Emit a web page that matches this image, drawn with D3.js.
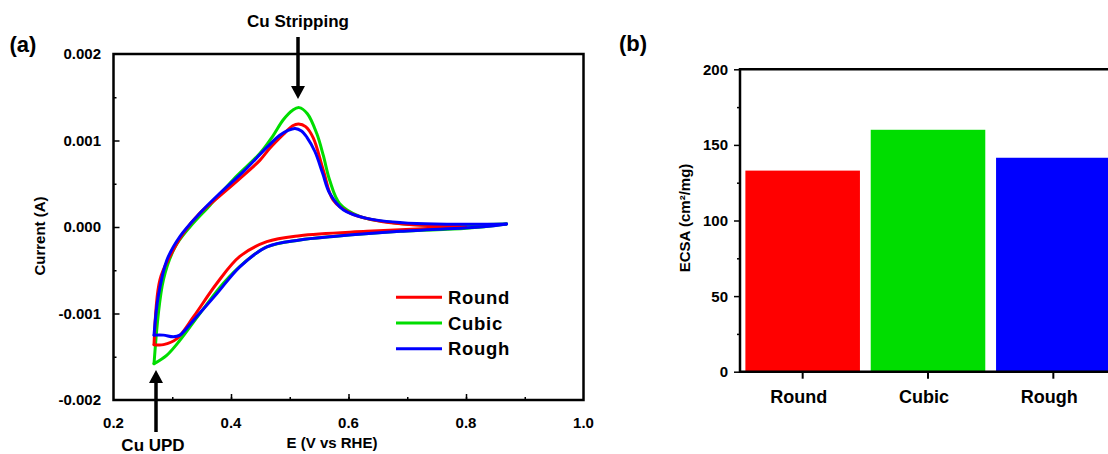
<!DOCTYPE html>
<html>
<head>
<meta charset="utf-8">
<script src="https://cdn.jsdelivr.net/npm/d3@7"></script>
<style>
  html, body { margin: 0; padding: 0; background: #fff; }
  svg { display: block; }
  text { font-family: "Liberation Sans", Arial, sans-serif; font-weight: bold; fill: #000; }
</style>
</head>
<body>
<svg id="chart" width="1108" height="454"></svg>
<script>
// ---------- Panel (a): cyclic voltammograms ----------
// Potential (V vs RHE) and current (A); each sweep: start at upper vertex, cathodic sweep down to lower vertex, anodic sweep back up.
const roundE = [0.800, 0.744, 0.631, 0.517, 0.461, 0.415, 0.376, 0.336, 0.308, 0.285, 0.269,
                0.279, 0.296, 0.319, 0.347, 0.381, 0.415, 0.449, 0.466, 0.489, 0.505, 0.515, 0.527, 0.540, 0.557, 0.574, 0.603, 0.659, 0.790];
const roundI = [0.000000, -0.000015, -0.00005, -0.00010, -0.00017, -0.00034, -0.00065, -0.00104, -0.00129, -0.00136, -0.00136,
                -0.00061, -0.00034, -0.00007, 0.00016, 0.00036, 0.00056, 0.00077, 0.00091, 0.00107, 0.00117, 0.00119, 0.00116, 0.00103, 0.00066, 0.00031, 0.00016, 0.00006, 0.000003];

const cubicE = [0.869, 0.801, 0.688, 0.574, 0.517, 0.461, 0.421, 0.387, 0.347, 0.313, 0.291, 0.269,
                0.285, 0.305, 0.330, 0.364, 0.404, 0.449, 0.472, 0.489, 0.505, 0.516, 0.530, 0.546, 0.557, 0.568, 0.585, 0.620, 0.676, 0.744, 0.869];
const cubicI = [0.000035, -0.000015, -0.00005, -0.00011, -0.00015, -0.00023, -0.00042, -0.00065, -0.00100, -0.00131, -0.00148, -0.00158,
                -0.00061, -0.00023, 0.00000, 0.00025, 0.00055, 0.00085, 0.00106, 0.00124, 0.00135, 0.00138, 0.00131, 0.00108, 0.00083, 0.00054, 0.00027, 0.00012, 0.00005, 0.00002, 0.000035];

const roughE = [0.869, 0.829, 0.688, 0.574, 0.517, 0.461, 0.415, 0.376, 0.336, 0.313, 0.302, 0.285, 0.269,
                0.276, 0.291, 0.313, 0.347, 0.381, 0.421, 0.461, 0.483, 0.498, 0.509, 0.520, 0.529, 0.543, 0.556, 0.568, 0.591, 0.631, 0.716, 0.869];
const roughI = [0.000035, 0.000003, -0.00005, -0.00011, -0.00015, -0.00023, -0.00046, -0.00077, -0.00108, -0.00125, -0.00127, -0.00125, -0.00125,
                -0.00081, -0.00038, -0.00011, 0.00016, 0.00039, 0.00064, 0.00092, 0.00106, 0.00112, 0.00114, 0.00111, 0.00104, 0.00087, 0.00062, 0.00039, 0.00020, 0.00010, 0.00004, 0.000035];

const cvNames = ["Round", "Cubic", "Rough"];
const cvColors = ["#ff0000", "#00dd00", "#0000ff"];
const xTicksA = [0.2, 0.4, 0.6, 0.8, 1.0];
const yTicksA = [-0.002, -0.001, 0.000, 0.001, 0.002];

// ---------- Panel (b): ECSA bars ----------
const shapes = ["Round", "Cubic", "Rough"];
const ecsa = [133, 160, 141.5];
const barColors = ["#ff0000", "#00dd00", "#0000ff"];
const yTicksB = [0, 50, 100, 150, 200];

const svg = d3.select("#chart");

// ===== Panel (a) =====
const ax = d3.scaleLinear().domain([0.2, 1.0]).range([113.5, 583.5]);
const ay = d3.scaleLinear().domain([-0.002, 0.002]).range([400, 54]);
const gA = svg.append("g");

// ticks (inward)
gA.append("g").attr("transform", `translate(0,${ay(-0.002)})`)
  .call(d3.axisTop(ax).tickValues(d3.range(0.3, 0.95, 0.1)).tickSize(3).tickFormat(""))
  .call(g => g.select(".domain").remove())
  .selectAll("line").attr("stroke-width", 1.5);
gA.append("g").attr("transform", `translate(0,${ay(-0.002)})`)
  .call(d3.axisTop(ax).tickValues([0.4, 0.6, 0.8]).tickSize(6).tickFormat(""))
  .call(g => g.select(".domain").remove())
  .selectAll("line").attr("stroke-width", 1.5);
gA.append("g").attr("transform", `translate(${ax(0.2)},0)`)
  .call(d3.axisRight(ay).tickValues([-0.0015, -0.0005, 0.0005, 0.0015]).tickSize(3).tickFormat(""))
  .call(g => g.select(".domain").remove())
  .selectAll("line").attr("stroke-width", 1.5);
gA.append("g").attr("transform", `translate(${ax(0.2)},0)`)
  .call(d3.axisRight(ay).tickValues([-0.001, 0, 0.001]).tickSize(6).tickFormat(""))
  .call(g => g.select(".domain").remove())
  .selectAll("line").attr("stroke-width", 1.5);

// tick labels
gA.selectAll(".xl").data(xTicksA).join("text")
  .attr("x", d => ax(d)).attr("y", 428).attr("text-anchor", "middle")
  .style("font-size", "15px").text(d => d.toFixed(1));
gA.selectAll(".yl").data(yTicksA).join("text")
  .attr("x", 101).attr("y", d => ay(d) + 5).attr("text-anchor", "end")
  .style("font-size", "15px").text(d => d.toFixed(3));

// curves
const line = d3.line().x(d => ax(d[0])).y(d => ay(d[1])).curve(d3.curveCatmullRom.alpha(0.5));
const series = [
  {E: cubicE, I: cubicI, c: cvColors[1]},
  {E: roundE, I: roundI, c: cvColors[0]},
  {E: roughE, I: roughI, c: cvColors[2]}
];
series.forEach(s => {
  const pts = s.E.map((e, i) => [e, s.I[i]]);
  const vIdx = d3.minIndex(s.E);
  const cath = pts.slice(0, vIdx + 1);
  const anod = pts.slice(vIdx);
  [cath, anod].forEach(p => {
    gA.append("path").attr("d", line(p)).attr("fill", "none")
      .attr("stroke", s.c).attr("stroke-width", 3).attr("stroke-linejoin", "round").attr("stroke-linecap", "round");
  });
});

// frame
gA.append("rect").attr("x", ax(0.2)).attr("y", ay(0.002))
  .attr("width", ax(1.0) - ax(0.2)).attr("height", ay(-0.002) - ay(0.002))
  .attr("fill", "none").attr("stroke", "#000").attr("stroke-width", 2.5);

// legend
const leg = gA.append("g");
cvNames.forEach((n, i) => {
  const yy = 297.3 + i * 25.7;
  leg.append("line").attr("x1", 396).attr("x2", 442).attr("y1", yy).attr("y2", yy)
    .attr("stroke", cvColors[i]).attr("stroke-width", 3);
  leg.append("text").attr("x", 448).attr("y", yy + 6.5).style("font-size", "18.5px")
    .style("letter-spacing", "0.7px").text(n);
});

// axis titles
gA.append("text").attr("x", 332).attr("y", 448).attr("text-anchor", "middle")
  .style("font-size", "15px").text("E (V vs RHE)");
gA.append("text").attr("transform", "translate(45,236) rotate(-90)").attr("text-anchor", "middle")
  .style("font-size", "15px").text("Current (A)");
gA.append("text").attr("x", 23).attr("y", 52).attr("text-anchor", "middle")
  .style("font-size", "22px").text("(a)");

// annotations
function arrow(x, yTail, yTip) {
  const dir = yTip > yTail ? 1 : -1;
  const headLen = 13, headW = 7;
  gA.append("line").attr("x1", x).attr("x2", x).attr("y1", yTail).attr("y2", yTip - dir * headLen + dir)
    .attr("stroke", "#000").attr("stroke-width", 3.5);
  gA.append("path").attr("d", `M${x - headW},${yTip - dir * headLen} L${x + headW},${yTip - dir * headLen} L${x},${yTip} Z`)
    .attr("fill", "#000");
}
arrow(298, 37, 99);
arrow(156, 432, 370);
gA.append("text").attr("x", 298).attr("y", 27).attr("text-anchor", "middle")
  .style("font-size", "17px").text("Cu Stripping");
gA.append("text").attr("x", 153).attr("y", 451).attr("text-anchor", "middle")
  .style("font-size", "17px").text("Cu UPD");

// ===== Panel (b) =====
const bx = d3.scaleBand().domain(shapes).range([740, 1116]).paddingInner(0.086).paddingOuter(0.043);
const by = d3.scaleLinear().domain([0, 200]).range([371.7, 69.3]);
const gB = svg.append("g");

gB.selectAll("rect.bar").data(shapes).join("rect").attr("class", "bar")
  .attr("x", d => bx(d)).attr("width", bx.bandwidth())
  .attr("y", (d, i) => by(ecsa[i])).attr("height", (d, i) => by(0) - by(ecsa[i]))
  .attr("fill", (d, i) => barColors[i]);

// y axis
gB.append("g").attr("transform", "translate(740,0)")
  .call(d3.axisLeft(by).tickValues([25, 75, 125, 175]).tickSize(3).tickFormat(""))
  .call(g => g.select(".domain").remove())
  .selectAll("line").attr("stroke-width", 1.5);
gB.append("g").attr("transform", "translate(740,0)")
  .call(d3.axisLeft(by).tickValues(yTicksB).tickSize(6).tickFormat(""))
  .call(g => g.select(".domain").remove())
  .selectAll("line").attr("stroke-width", 1.5);
gB.selectAll(".ylb").data(yTicksB).join("text")
  .attr("x", 728).attr("y", d => by(d) + 5.5).attr("text-anchor", "end")
  .style("font-size", "15px").text(d => d);

// x axis ticks and labels
gB.append("g").attr("transform", `translate(0,${by(0)})`)
  .call(d3.axisBottom(bx).tickSize(7).tickFormat(""))
  .call(g => g.select(".domain").remove())
  .selectAll("line").attr("stroke-width", 2);
gB.selectAll(".xlb").data(shapes).join("text")
  .attr("x", d => bx(d) + bx.bandwidth() / 2 - 4).attr("y", 403).attr("text-anchor", "middle")
  .style("font-size", "18px").text(d => d);

// frame lines
gB.append("line").attr("x1", 740).attr("x2", 1108).attr("y1", by(200)).attr("y2", by(200))
  .attr("stroke", "#000").attr("stroke-width", 2.5);
gB.append("line").attr("x1", 740).attr("x2", 1108).attr("y1", by(0)).attr("y2", by(0))
  .attr("stroke", "#000").attr("stroke-width", 2.5);
gB.append("line").attr("x1", 740).attr("x2", 740).attr("y1", by(200) - 1.25).attr("y2", by(0) + 1.25)
  .attr("stroke", "#000").attr("stroke-width", 2.5);

gB.append("text").attr("transform", "translate(690,218) rotate(-90)").attr("text-anchor", "middle")
  .style("font-size", "15px").text("ECSA (cm²/mg)");
gB.append("text").attr("x", 633).attr("y", 51).attr("text-anchor", "middle")
  .style("font-size", "22px").text("(b)");
</script>
</body>
</html>
